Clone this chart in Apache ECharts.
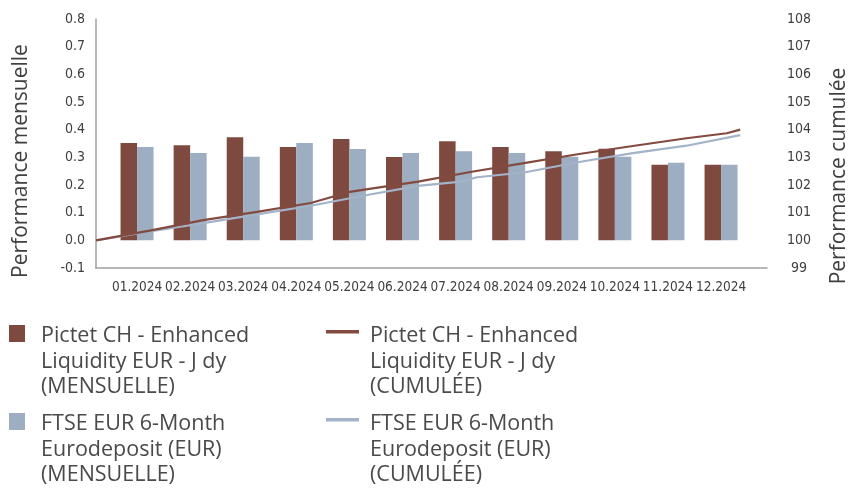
<!DOCTYPE html>
<html>
<head>
<meta charset="utf-8">
<script src="https://cdn.jsdelivr.net/npm/echarts@6/dist/echarts.min.js"></script>
<style>
  html, body { margin: 0; padding: 0; background: #fff; }
  #chart { width: 849px; height: 504px; }
</style>
</head>
<body>
<div id="chart"></div>
<script>
const months = ["01.2024", "02.2024", "03.2024", "04.2024", "05.2024", "06.2024",
  "07.2024", "08.2024", "09.2024", "10.2024", "11.2024", "12.2024"];

const names = [
  "Pictet CH - Enhanced\nLiquidity EUR - J dy\n(MENSUELLE)",
  "FTSE EUR 6-Month\nEurodeposit (EUR)\n(MENSUELLE)",
  "Pictet CH - Enhanced\nLiquidity EUR - J dy\n(CUMULÉE)",
  "FTSE EUR 6-Month\nEurodeposit (EUR)\n(CUMULÉE)"
];

// monthly performance (%)
const pictetMonthly = [0.352, 0.344, 0.373, 0.337, 0.366, 0.301, 0.358, 0.337, 0.322, 0.331, 0.273, 0.273];
const ftseMonthly = [0.337, 0.316, 0.302, 0.352, 0.330, 0.316, 0.322, 0.316, 0.302, 0.302, 0.280, 0.273];

// cumulative performance (base 100), read along the time axis (months elapsed)
const pictetCumT = [0, 1, 2, 3, 4, 4.7, 5, 6, 7, 8, 9, 10, 11, 11.75, 12];
const pictetCum = [100, 100.35, 100.73, 101.03, 101.35, 101.74, 101.83, 102.12, 102.48, 102.80, 103.12, 103.41, 103.69, 103.87, 104.00];
const ftseCumT = [0, 1, 2, 3, 4, 5, 6, 6.8, 7.1, 8, 9, 10, 11, 12];
const ftseCum = [100, 100.32, 100.62, 100.94, 101.25, 101.62, 101.97, 102.12, 102.28, 102.46, 102.83, 103.15, 103.42, 103.80];

const red = "#7e4a40";
const blue = "#9dadc2";
const axisColor = "#a0a0a0";
const labelColor = "#404040";
const narrow = "'DejaVu Sans Condensed', 'Liberation Sans Narrow', sans-serif";
const humanist = "'Open Sans', Lato, sans-serif";

function pairs(xs, ys) {
  return xs.map((x, i) => [x, ys[i]]);
}

// spacer line on top so that the first text line sits level with the icon
function legendAt(name, left, top, iconW, iconH, spacer, padLeft) {
  return {
    data: [name],
    left: left,
    top: top,
    padding: 0,
    icon: "rect",
    itemWidth: iconW,
    itemHeight: iconH,
    selectedMode: false,
    formatter: (n) => "{sp| }\n{t|" + n + "}",
    textStyle: {
      fontFamily: humanist,
      fontSize: 21.5,
      color: "#4a4a4a",
      lineHeight: 25.5,
      padding: [0, 0, 0, padLeft],
      rich: {
        sp: { fontSize: 1, lineHeight: spacer },
        t: { fontFamily: humanist, fontSize: 21.5, lineHeight: 25.5, color: "#4a4a4a" }
      }
    }
  };
}

const chart = echarts.init(document.getElementById("chart"), null, { renderer: "canvas" });

chart.setOption({
  animation: false,
  grid: [
    { left: 96, right: 82, top: 19, bottom: 236 },
    { left: 110.5, right: 101.4, top: 19, bottom: 236 }
  ],
  xAxis: [
    {
      type: "value",
      gridIndex: 0,
      min: 0,
      max: 12.5,
      axisLine: { show: true, onZero: false, lineStyle: { color: axisColor, width: 1.5 } },
      axisTick: { show: false },
      axisLabel: { show: false },
      splitLine: { show: false }
    },
    {
      type: "category",
      gridIndex: 1,
      data: months,
      axisLine: { show: false },
      axisTick: { show: false },
      axisLabel: { interval: 0, margin: 12, fontFamily: narrow, fontSize: 13.5, color: labelColor }
    }
  ],
  yAxis: [
    {
      type: "value",
      gridIndex: 0,
      position: "left",
      min: -0.1,
      max: 0.8,
      interval: 0.1,
      axisLine: { show: true, lineStyle: { color: axisColor, width: 1.5 } },
      axisTick: { show: false },
      splitLine: { show: false },
      axisLabel: {
        margin: 11,
        fontFamily: narrow,
        fontSize: 14,
        color: labelColor,
        formatter: (v) => v.toFixed(1)
      }
    },
    {
      type: "value",
      gridIndex: 0,
      position: "right",
      min: 99,
      max: 108,
      interval: 1,
      axisLine: { show: false },
      axisTick: { show: false },
      splitLine: { show: false },
      axisLabel: { margin: 32, align: "center", fontFamily: narrow, fontSize: 14, color: labelColor }
    },
    {
      type: "value",
      gridIndex: 1,
      min: -0.1,
      max: 0.8,
      show: false
    }
  ],
  legend: [
    legendAt(names[0], 9, 267.25, 16, 17, 56, 11),
    legendAt(names[1], 9, 355.25, 16, 17, 56, 11),
    legendAt(names[2], 326, 263.75, 33, 3.5, 59.5, 6),
    legendAt(names[3], 326, 351.75, 33, 3.5, 59.5, 6)
  ],
  graphic: [
    {
      type: "text",
      x: 21,
      y: 161,
      rotation: Math.PI / 2,
      style: {
        text: "Performance mensuelle",
        fontFamily: humanist,
        fontSize: 21,
        fill: "#404040",
        align: "center",
        verticalAlign: "middle"
      }
    },
    {
      type: "text",
      x: 839,
      y: 176,
      rotation: Math.PI / 2,
      style: {
        text: "Performance cumulée",
        fontFamily: humanist,
        fontSize: 21,
        fill: "#404040",
        align: "center",
        verticalAlign: "middle"
      }
    }
  ],
  series: [
    {
      name: names[0],
      type: "bar",
      xAxisIndex: 1,
      yAxisIndex: 2,
      data: pictetMonthly,
      barWidth: 16.5,
      barGap: "0%",
      itemStyle: { color: red }
    },
    {
      name: names[1],
      type: "bar",
      xAxisIndex: 1,
      yAxisIndex: 2,
      data: ftseMonthly,
      barWidth: 16.5,
      barGap: "0%",
      itemStyle: { color: blue }
    },
    {
      name: names[3],
      type: "line",
      xAxisIndex: 0,
      yAxisIndex: 1,
      data: pairs(ftseCumT, ftseCum),
      showSymbol: false,
      lineStyle: { color: "#a3b3c8", width: 2.2 },
      itemStyle: { color: "#a3b3c8" },
      z: 3
    },
    {
      name: names[2],
      type: "line",
      xAxisIndex: 0,
      yAxisIndex: 1,
      data: pairs(pictetCumT, pictetCum),
      showSymbol: false,
      lineStyle: { color: "#834a40", width: 2.2 },
      itemStyle: { color: "#834a40" },
      z: 4
    }
  ]
});
</script>
</body>
</html>
